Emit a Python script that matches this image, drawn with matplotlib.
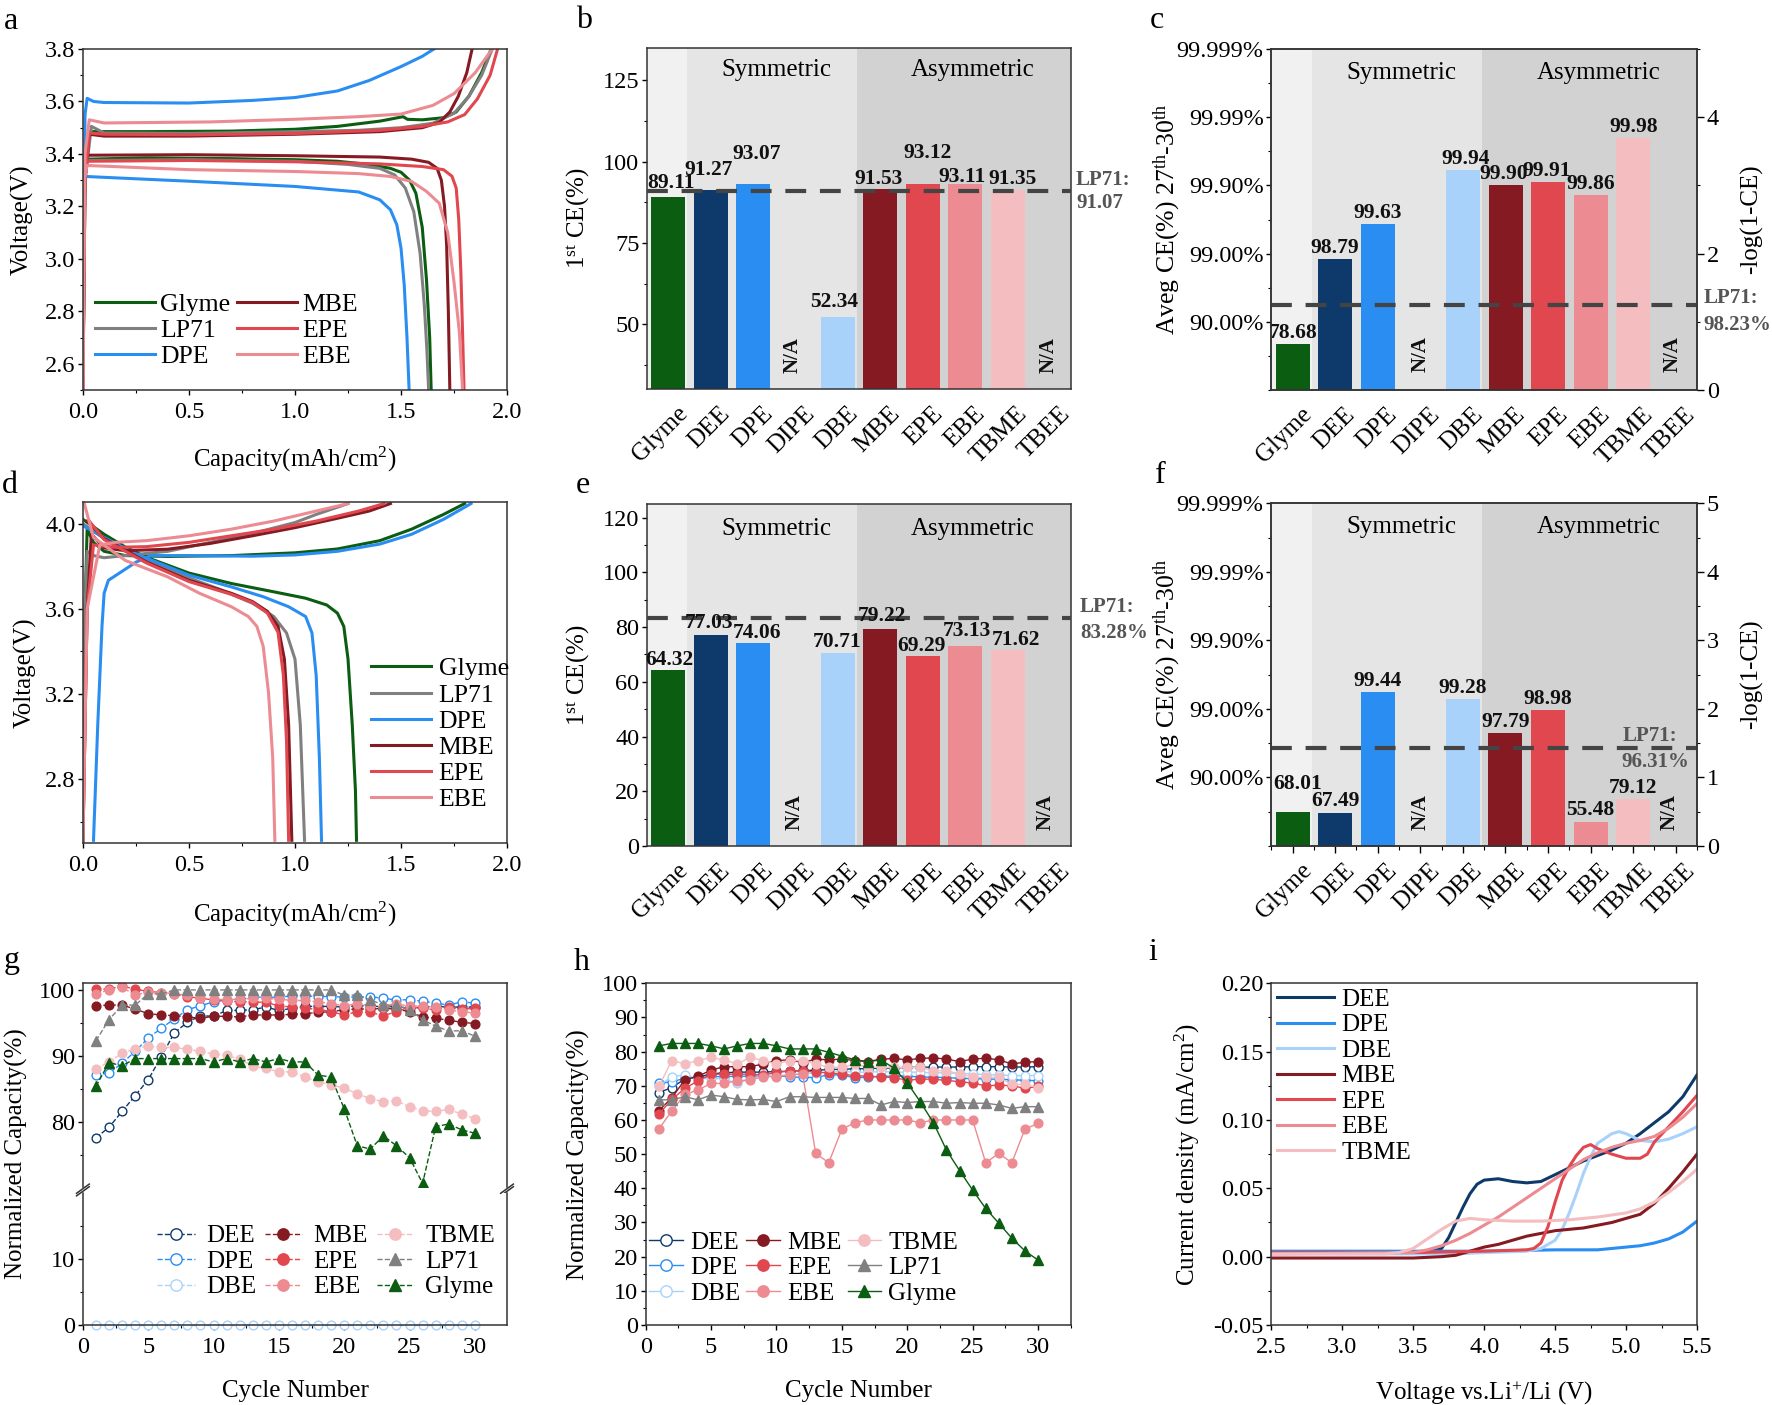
import numpy as np
import matplotlib.pyplot as plt
from matplotlib.ticker import MultipleLocator, FixedLocator
from matplotlib.transforms import ScaledTranslation

plt.rcParams['font.family'] = ['Liberation Serif', 'DejaVu Serif']
plt.rcParams['mathtext.fontset'] = 'custom'
plt.rcParams['mathtext.rm'] = 'Liberation Serif'
plt.rcParams['mathtext.it'] = 'Liberation Serif:italic'
plt.rcParams['mathtext.bf'] = 'Liberation Serif:bold'
plt.rcParams['xtick.labelsize'] = 17.5
plt.rcParams['ytick.labelsize'] = 17.5
plt.rcParams['axes.labelsize'] = 18

# colours
C_GLYME = '#0B5D12'
C_LP71 = '#808080'
C_DEE = '#0E3A6B'
C_DPE = '#2A8DF2'
C_DBE = '#A9D2FA'
C_MBE = '#861A22'
C_EPE = '#E1474F'
C_EBE = '#EC8B91'
C_TBME = '#F4BEC1'

# ---------------- a: LFP charge / discharge ----------------
a_glyme_ch_x = [0.0, 0.01, 0.03, 0.3, 0.7, 1.0, 1.2, 1.4, 1.51, 1.53, 1.6, 1.7, 1.76, 1.82, 1.88, 1.925]
a_glyme_ch_y = [2.5, 3.4, 3.485, 3.485, 3.487, 3.494, 3.505, 3.525, 3.542, 3.532, 3.53, 3.538, 3.56, 3.62, 3.71, 3.8]
a_glyme_dis_x = [0.0, 0.005, 0.02, 0.3, 0.7, 1.0, 1.2, 1.35, 1.45, 1.5, 1.54, 1.57, 1.6, 1.62, 1.635, 1.642]
a_glyme_dis_y = [2.5, 3.3, 3.38, 3.385, 3.382, 3.378, 3.372, 3.36, 3.345, 3.33, 3.3, 3.25, 3.12, 2.92, 2.7, 2.5]
a_lp71_ch_x = [0.0, 0.01, 0.04, 0.1, 0.5, 1.0, 1.3, 1.5, 1.65, 1.75, 1.82, 1.88, 1.93]
a_lp71_ch_y = [2.5, 3.3, 3.505, 3.48, 3.478, 3.485, 3.49, 3.5, 3.517, 3.555, 3.62, 3.7, 3.8]
a_lp71_dis_x = [0.0, 0.005, 0.02, 0.5, 1.0, 1.25, 1.4, 1.47, 1.52, 1.56, 1.59, 1.61, 1.622, 1.63]
a_lp71_dis_y = [2.5, 3.3, 3.375, 3.378, 3.372, 3.36, 3.345, 3.32, 3.27, 3.18, 3.02, 2.82, 2.65, 2.5]
a_dpe_ch_x = [0.0, 0.01, 0.02, 0.05, 0.1, 0.5, 0.8, 1.0, 1.2, 1.35, 1.5, 1.6, 1.655]
a_dpe_ch_y = [2.5, 3.55, 3.612, 3.6, 3.596, 3.594, 3.604, 3.615, 3.64, 3.68, 3.733, 3.772, 3.8]
a_dpe_dis_x = [0.0, 0.005, 0.013, 0.5, 1.0, 1.3, 1.4, 1.45, 1.48, 1.5, 1.515, 1.528, 1.538]
a_dpe_dis_y = [2.5, 3.2, 3.314, 3.296, 3.276, 3.255, 3.225, 3.187, 3.13, 3.04, 2.9, 2.7, 2.5]
a_mbe_ch_x = [0.0, 0.01, 0.03, 0.1, 0.5, 1.0, 1.4, 1.6, 1.68, 1.73, 1.77, 1.81, 1.835]
a_mbe_ch_y = [2.5, 3.3, 3.475, 3.468, 3.468, 3.475, 3.485, 3.5, 3.52, 3.56, 3.62, 3.71, 3.8]
a_mbe_dis_x = [0.0, 0.005, 0.02, 0.5, 1.0, 1.4, 1.55, 1.63, 1.67, 1.69, 1.705, 1.715, 1.723, 1.73]
a_mbe_dis_y = [2.5, 3.3, 3.395, 3.397, 3.393, 3.388, 3.38, 3.368, 3.345, 3.3, 3.2, 3.05, 2.8, 2.5]
a_epe_ch_x = [0.0, 0.01, 0.03, 0.1, 0.5, 1.0, 1.4, 1.6, 1.72, 1.8, 1.86, 1.92, 1.955]
a_epe_ch_y = [2.5, 3.3, 3.48, 3.475, 3.473, 3.478, 3.49, 3.505, 3.522, 3.55, 3.61, 3.7, 3.8]
a_epe_dis_x = [0.0, 0.005, 0.02, 0.5, 1.0, 1.4, 1.6, 1.7, 1.74, 1.76, 1.772, 1.782, 1.79, 1.797]
a_epe_dis_y = [2.5, 3.3, 3.372, 3.375, 3.37, 3.362, 3.352, 3.34, 3.315, 3.27, 3.15, 2.95, 2.72, 2.5]
a_ebe_ch_x = [0.0, 0.01, 0.03, 0.1, 0.6, 1.0, 1.3, 1.5, 1.65, 1.75, 1.85, 1.93]
a_ebe_ch_y = [2.5, 3.4, 3.53, 3.518, 3.522, 3.532, 3.542, 3.552, 3.585, 3.63, 3.71, 3.8]
a_ebe_dis_x = [0.0, 0.005, 0.02, 0.5, 1.0, 1.3, 1.45, 1.55, 1.62, 1.68, 1.72, 1.75, 1.775, 1.79]
a_ebe_dis_y = [2.5, 3.3, 3.356, 3.34, 3.333, 3.325, 3.314, 3.295, 3.257, 3.212, 3.1, 2.91, 2.72, 2.5]

# ---------------- d: NCM charge / discharge ----------------
d_glyme_ch_x = [0.0, 0.01, 0.02, 0.05, 0.1, 0.2, 0.4, 0.7, 1.0, 1.2, 1.4, 1.55, 1.7, 1.8]
d_glyme_ch_y = [2.5, 3.6, 3.974, 3.912, 3.87, 3.85, 3.846, 3.85, 3.863, 3.881, 3.92, 3.974, 4.043, 4.094]
d_glyme_dis_x = [0.0, 0.1, 0.2, 0.3, 0.5, 0.7, 0.9, 1.05, 1.15, 1.2, 1.23, 1.25, 1.27, 1.285, 1.29]
d_glyme_dis_y = [4.02, 3.95, 3.89, 3.842, 3.768, 3.719, 3.68, 3.65, 3.618, 3.58, 3.518, 3.364, 3.055, 2.746, 2.514]
d_lp71_ch_x = [0.0, 0.01, 0.02, 0.05, 0.1, 0.2, 0.4, 0.6, 0.8, 1.0, 1.1, 1.25]
d_lp71_ch_y = [2.5, 3.6, 3.87, 3.85, 3.84, 3.85, 3.87, 3.912, 3.954, 4.005, 4.043, 4.094]
d_lp71_dis_x = [0.0, 0.1, 0.3, 0.5, 0.65, 0.8, 0.9, 0.96, 1.0, 1.025, 1.045]
d_lp71_dis_y = [4.0, 3.93, 3.83, 3.745, 3.69, 3.626, 3.564, 3.487, 3.364, 3.055, 2.514]
d_dpe_ch_x = [0.05, 0.07, 0.09, 0.1, 0.12, 0.18, 0.25, 0.32, 0.5, 0.8, 1.0, 1.2, 1.4, 1.55, 1.7, 1.83]
d_dpe_ch_y = [2.514, 3.055, 3.518, 3.673, 3.734, 3.773, 3.819, 3.85, 3.85, 3.847, 3.853, 3.87, 3.904, 3.95, 4.02, 4.094]
d_dpe_dis_x = [0.0, 0.1, 0.25, 0.5, 0.7, 0.85, 0.97, 1.05, 1.08, 1.1, 1.115, 1.125]
d_dpe_dis_y = [3.99, 3.935, 3.858, 3.758, 3.703, 3.657, 3.61, 3.564, 3.487, 3.286, 2.9, 2.514]
d_mbe_ch_x = [0.0, 0.02, 0.04, 0.1, 0.2, 0.4, 0.6, 0.8, 1.0, 1.2, 1.35, 1.45]
d_mbe_ch_y = [2.5, 3.6, 3.95, 3.886, 3.873, 3.88, 3.907, 3.943, 3.981, 4.025, 4.059, 4.094]
d_mbe_dis_x = [0.02, 0.1, 0.3, 0.5, 0.7, 0.8, 0.87, 0.92, 0.95, 0.97, 0.985]
d_mbe_dis_y = [4.012, 3.93, 3.82, 3.734, 3.673, 3.634, 3.588, 3.518, 3.364, 3.055, 2.514]
d_epe_ch_x = [0.0, 0.02, 0.05, 0.15, 0.3, 0.5, 0.7, 0.9, 1.1, 1.3, 1.42]
d_epe_ch_y = [2.5, 3.6, 3.9, 3.889, 3.892, 3.912, 3.943, 3.974, 4.012, 4.059, 4.094]
d_epe_dis_x = [0.03, 0.1, 0.3, 0.5, 0.7, 0.8, 0.87, 0.92, 0.945, 0.96, 0.97]
d_epe_dis_y = [4.012, 3.925, 3.815, 3.728, 3.668, 3.63, 3.58, 3.49, 3.29, 2.98, 2.514]
d_ebe_ch_x = [0.0, 0.02, 0.08, 0.15, 0.3, 0.5, 0.7, 0.9, 1.1, 1.25]
d_ebe_ch_y = [2.5, 3.6, 3.9, 3.912, 3.92, 3.943, 3.974, 4.012, 4.059, 4.094]
d_ebe_dis_x = [0.005, 0.05, 0.2, 0.4, 0.55, 0.7, 0.78, 0.82, 0.85, 0.875, 0.895, 0.905]
d_ebe_dis_y = [4.1, 3.935, 3.827, 3.75, 3.673, 3.61, 3.564, 3.518, 3.425, 3.209, 2.9, 2.514]

# ---------------- b, c, e, f: bar panels ----------------
ethers = ['Glyme', 'DEE', 'DPE', 'DIPE', 'DBE', 'MBE', 'EPE', 'EBE', 'TBME', 'TBEE']
bar_colors = [C_GLYME, C_DEE, C_DPE, None, C_DBE, C_MBE, C_EPE, C_EBE, C_TBME, None]
ce1_lfp = [89.11, 91.27, 93.07, None, 52.34, 91.53, 93.12, 93.11, 91.35, None]
ce_avg_lfp = [78.68, 98.79, 99.63, None, 99.94, 99.90, 99.91, 99.86, 99.98, None]
ce1_ncm = [64.32, 77.03, 74.06, None, 70.71, 79.22, 69.29, 73.13, 71.62, None]
ce_avg_ncm = [68.01, 67.49, 99.44, None, 99.28, 97.79, 98.98, 55.48, 79.12, None]
lp71_ce1_lfp = 91.07
lp71_avg_lfp = 98.23
lp71_avg_lfp_drawn = 1.24   # dashed line sits here in the original panel c
lp71_ce1_ncm = 83.28
lp71_avg_ncm = 96.31

# ---------------- g, h: cycling ----------------
cycles = list(range(1, 31))
g_dee = [77.6, 79.2, 81.6, 84.0, 86.4, 89.9, 93.5, 95.1, 96.1, 96.0, 96.9, 96.9, 97.0, 97.4, 96.9,
         97.2, 97.5, 97.5, 97.5, 97.4, 97.6, 97.6, 97.4, 97.5, 97.2, 97.4, 97.5, 97.4, 97.4, 97.4]
g_dpe = [87.1, 87.4, 88.9, 90.7, 92.7, 94.2, 95.6, 97.0, 97.6, 98.2, 98.5, 98.6, 98.9, 98.9, 98.9,
         99.1, 99.1, 99.0, 99.0, 98.9, 98.9, 99.0, 98.7, 98.5, 98.5, 98.3, 98.0, 97.7, 98.2, 98.0]
g_dbe = [0.0, 0.0, 0.0, 0.0, 0.0, 0.0, 0.0, 0.0, 0.0, 0.0, 0.0, 0.0, 0.0, 0.0, 0.0,
         0.0, 0.0, 0.0, 0.0, 0.0, 0.0, 0.0, 0.0, 0.0, 0.0, 0.0, 0.0, 0.0, 0.0, 0.0]
g_mbe = [97.6, 97.7, 97.7, 97.1, 96.4, 96.2, 96.1, 95.9, 95.7, 96.0, 96.0, 95.9, 96.2, 96.2, 96.2,
         96.3, 96.4, 96.6, 96.7, 97.0, 97.1, 97.1, 97.2, 97.1, 96.7, 95.9, 95.7, 95.4, 95.1, 94.9]
g_epe = [100.1, 100.1, 100.6, 100.1, 99.8, 99.6, 99.4, 99.0, 98.7, 98.5, 98.3, 98.2, 98.2, 98.1, 97.6,
         97.4, 97.2, 97.1, 96.7, 96.2, 96.7, 96.6, 96.1, 96.7, 97.4, 97.2, 97.0, 97.4, 97.1, 97.2]
g_ebe = [99.4, 100.0, 100.4, 99.2, 99.7, 99.6, 99.4, 99.2, 98.7, 98.6, 98.5, 98.6, 98.7, 98.7, 98.6,
         98.4, 98.4, 98.2, 97.9, 97.6, 97.9, 97.6, 97.4, 97.8, 97.6, 97.5, 97.4, 97.0, 96.7, 96.5]
g_tbme = [88.0, 89.1, 90.4, 91.1, 91.5, 91.3, 91.3, 91.0, 90.7, 90.3, 90.1, 89.5, 88.5, 88.1, 87.6,
          87.6, 86.8, 86.1, 85.6, 85.1, 84.3, 83.5, 83.1, 83.2, 82.3, 81.7, 81.6, 81.9, 81.2, 80.5]
g_lp71 = [92.3, 95.5, 97.7, 97.7, 99.4, 99.4, 100.0, 100.0, 100.0, 100.0, 100.0, 100.0, 100.0, 100.0, 100.0,
          100.0, 100.0, 100.0, 100.0, 99.2, 99.2, 98.5, 97.7, 97.7, 97.0, 95.5, 94.5, 93.8, 93.8, 93.0]
g_glyme = [85.4, 89.0, 88.5, 89.6, 89.6, 89.6, 89.6, 89.6, 89.6, 89.1, 89.6, 89.1, 89.6, 89.1, 89.6,
           89.1, 89.1, 87.1, 86.8, 82.0, 76.4, 75.9, 77.9, 76.4, 74.6, 70.7, 79.3, 79.7, 78.8, 78.3]

h_dee = [68.0, 69.5, 72.0, 72.5, 73.5, 73.8, 74.0, 74.0, 74.0, 74.2, 74.2, 74.5, 74.5, 74.8, 74.8,
         75.0, 75.0, 75.2, 75.2, 75.4, 75.4, 75.5, 75.5, 75.5, 75.6, 75.6, 75.6, 75.5, 75.5, 75.6]
h_dpe = [70.7, 71.2, 72.2, 72.2, 72.7, 72.7, 72.8, 72.8, 72.9, 73.0, 72.6, 72.5, 72.4, 73.3, 73.1,
         72.4, 72.5, 72.8, 72.8, 72.8, 72.6, 72.5, 72.4, 72.2, 72.1, 72.0, 71.9, 71.8, 71.6, 71.5]
h_dbe = [70.0, 72.7, 73.2, 72.0, 72.2, 72.0, 70.7, 72.0, 73.0, 73.0, 73.2, 73.5, 73.8, 74.0, 74.2,
         74.0, 74.0, 74.2, 74.0, 74.0, 74.0, 73.8, 73.8, 73.6, 73.5, 73.3, 73.2, 73.0, 73.0, 73.0]
h_mbe = [62.7, 66.5, 71.8, 72.8, 74.6, 75.6, 75.6, 75.6, 76.4, 77.4, 77.6, 76.8, 77.8, 77.6, 77.8,
         77.4, 77.1, 77.8, 78.0, 77.6, 78.0, 78.2, 77.8, 77.1, 77.8, 78.1, 77.6, 76.4, 76.9, 77.1]
h_epe = [61.7, 66.0, 69.3, 71.4, 73.4, 73.4, 73.4, 73.4, 73.2, 73.9, 74.4, 74.4, 74.0, 73.8, 73.4,
         73.0, 72.8, 72.6, 72.4, 71.6, 72.0, 71.9, 71.6, 71.2, 70.8, 70.0, 70.2, 70.0, 69.3, 69.8]
h_ebe = [57.3, 62.7, 67.5, 68.8, 70.7, 70.7, 71.5, 71.7, 72.7, 72.7, 73.2, 73.5, 50.2, 47.5, 57.3,
         59.2, 60.0, 60.0, 60.0, 60.0, 59.2, 60.0, 60.0, 60.0, 60.0, 47.5, 50.2, 47.5, 57.3, 59.0]
h_tbme = [69.8, 77.4, 76.4, 77.4, 78.3, 77.6, 76.4, 78.3, 77.4, 76.4, 77.4, 77.4, 76.4, 75.4, 75.4,
          76.4, 75.4, 75.4, 75.4, 75.4, 75.4, 74.4, 74.4, 73.5, 72.5, 72.5, 72.5, 70.4, 70.4, 69.5]
h_lp71 = [65.9, 65.9, 66.8, 65.9, 67.3, 66.8, 66.0, 65.9, 66.0, 65.4, 66.8, 66.8, 66.6, 66.6, 66.6,
          66.3, 66.3, 64.4, 65.4, 65.1, 65.4, 65.4, 64.9, 65.1, 64.9, 64.9, 64.4, 63.4, 63.9, 63.9]
h_glyme = [81.7, 82.4, 82.4, 82.4, 81.7, 80.8, 81.7, 82.4, 82.4, 81.7, 80.8, 80.8, 80.8, 79.8, 78.7,
           77.6, 77.1, 77.6, 75.1, 70.9, 65.3, 59.2, 51.2, 45.2, 39.5, 34.1, 29.8, 25.4, 21.7, 19.0]

# ---------------- i: LSV ----------------
i_dee_v = [2.5, 3.0, 3.5, 3.6, 3.7, 3.75, 3.8, 3.85, 3.9, 3.95, 4.0, 4.1, 4.2, 4.3, 4.4, 4.5, 4.6, 4.7, 4.8, 4.9, 5.0, 5.1, 5.2, 5.3, 5.4, 5.5]
i_dee_j = [0.003, 0.003, 0.003, 0.003, 0.006, 0.014, 0.025, 0.036, 0.046, 0.053, 0.056, 0.057, 0.055, 0.054, 0.055, 0.060, 0.065, 0.070, 0.074, 0.078, 0.083, 0.090, 0.098, 0.106, 0.117, 0.133]
i_dpe_v = [2.5, 3.0, 3.5, 4.0, 4.5, 4.8, 5.0, 5.1, 5.2, 5.3, 5.4, 5.5]
i_dpe_j = [0.004, 0.004, 0.004, 0.004, 0.005, 0.005, 0.007, 0.008, 0.010, 0.013, 0.018, 0.026]
i_dbe_v = [2.5, 3.5, 3.8, 4.0, 4.3, 4.4, 4.5, 4.55, 4.6, 4.65, 4.7, 4.75, 4.8, 4.9, 4.95, 5.0, 5.1, 5.2, 5.3, 5.4, 5.5]
i_dbe_j = [0.002, 0.002, 0.002, 0.003, 0.004, 0.006, 0.012, 0.020, 0.032, 0.046, 0.061, 0.073, 0.083, 0.090, 0.0915, 0.090, 0.085, 0.084, 0.086, 0.090, 0.095]
i_mbe_v = [2.5, 3.0, 3.5, 3.7, 3.8, 3.9, 4.0, 4.1, 4.2, 4.3, 4.4, 4.5, 4.6, 4.7, 4.8, 4.9, 5.0, 5.1, 5.2, 5.3, 5.4, 5.5]
i_mbe_j = [-0.001, -0.001, -0.001, 0.0, 0.001, 0.004, 0.007, 0.009, 0.012, 0.015, 0.017, 0.019, 0.020, 0.021, 0.023, 0.025, 0.028, 0.031, 0.039, 0.050, 0.062, 0.075]
i_epe_v = [2.5, 3.5, 4.0, 4.3, 4.35, 4.4, 4.45, 4.5, 4.55, 4.6, 4.65, 4.7, 4.75, 4.8, 4.9, 5.0, 5.1, 5.15, 5.2, 5.3, 5.4, 5.5]
i_epe_j = [0.003, 0.003, 0.004, 0.005, 0.006, 0.010, 0.022, 0.040, 0.056, 0.066, 0.074, 0.080, 0.082, 0.079, 0.075, 0.072, 0.072, 0.075, 0.084, 0.095, 0.106, 0.118]
i_ebe_v = [2.5, 3.5, 3.6, 3.7, 3.8, 3.9, 4.0, 4.1, 4.2, 4.3, 4.4, 4.5, 4.6, 4.7, 4.8, 4.9, 5.0, 5.1, 5.2, 5.3, 5.4, 5.5]
i_ebe_j = [0.002, 0.003, 0.005, 0.008, 0.012, 0.017, 0.023, 0.029, 0.036, 0.043, 0.050, 0.057, 0.064, 0.071, 0.076, 0.080, 0.083, 0.085, 0.088, 0.094, 0.102, 0.112]
i_tbme_v = [2.5, 3.3, 3.4, 3.5, 3.6, 3.7, 3.8, 3.9, 4.0, 4.2, 4.4, 4.6, 4.8, 5.0, 5.1, 5.2, 5.3, 5.4, 5.5]
i_tbme_j = [0.002, 0.002, 0.003, 0.006, 0.013, 0.020, 0.026, 0.028, 0.027, 0.026, 0.026, 0.027, 0.029, 0.032, 0.035, 0.040, 0.047, 0.055, 0.064]

W, H = 1772, 1405
fig = plt.figure(figsize=(W / 100, H / 100), dpi=100)


def rect(l, t, r, b):
    return [l / W, 1 - b / H, (r - l) / W, (b - t) / H]


def style(ax):
    ax.tick_params(which='major', direction='out', length=3.5, width=1.0, pad=2)
    ax.tick_params(axis='x', which='major', pad=5)
    ax.tick_params(which='minor', direction='out', length=2.2, width=0.8)
    for s in ax.spines.values():
        s.set_linewidth(1.1)
        s.set_color('#333333')


def letter(x, y, s):
    fig.text(x / W, 1 - y / H, s, fontsize=23, va='baseline', ha='left')


LW = 2.2

# ---- a ----
axa = fig.add_axes(rect(82.9, 49, 507.1, 390))
style(axa)
for name, col, cx, cy, dx, dy in [
        ('Glyme', C_GLYME, a_glyme_ch_x, a_glyme_ch_y, a_glyme_dis_x, a_glyme_dis_y),
        ('LP71', C_LP71, a_lp71_ch_x, a_lp71_ch_y, a_lp71_dis_x, a_lp71_dis_y),
        ('DPE', C_DPE, a_dpe_ch_x, a_dpe_ch_y, a_dpe_dis_x, a_dpe_dis_y),
        ('MBE', C_MBE, a_mbe_ch_x, a_mbe_ch_y, a_mbe_dis_x, a_mbe_dis_y),
        ('EPE', C_EPE, a_epe_ch_x, a_epe_ch_y, a_epe_dis_x, a_epe_dis_y),
        ('EBE', C_EBE, a_ebe_ch_x, a_ebe_ch_y, a_ebe_dis_x, a_ebe_dis_y)]:
    axa.plot(cx, cy, color=col, lw=LW)
    axa.plot(dx, dy, color=col, lw=LW, label=name)
axa.set_xlim(0, 2.0)
axa.set_ylim(2.5, 3.8)
axa.xaxis.set_major_locator(MultipleLocator(0.5))
axa.xaxis.set_minor_locator(MultipleLocator(0.25))
axa.yaxis.set_major_locator(FixedLocator([2.6, 2.8, 3.0, 3.2, 3.4, 3.6, 3.8]))
axa.yaxis.set_minor_locator(MultipleLocator(0.1))
axa.set_xlabel('Capacity(mAh/cm$^2$)')
axa.set_ylabel('Voltage(V)')
axa.xaxis.set_label_coords(0.5, -0.16)
axa.yaxis.set_label_coords(-0.115, 0.5)
axa.legend(ncol=2, loc='upper left', bbox_to_anchor=(0.028, 0.285), frameon=False, fontsize=18.5,
           handlelength=2.35, handletextpad=0.2, columnspacing=0.25, labelspacing=0.12,
           borderpad=0, borderaxespad=0)
letter(4, 29, 'a')

# ---- d ----
axd = fig.add_axes(rect(82.9, 502.3, 507.1, 843.3))
style(axd)
for name, col, cx, cy, dx, dy in [
        ('Glyme', C_GLYME, d_glyme_ch_x, d_glyme_ch_y, d_glyme_dis_x, d_glyme_dis_y),
        ('LP71', C_LP71, d_lp71_ch_x, d_lp71_ch_y, d_lp71_dis_x, d_lp71_dis_y),
        ('DPE', C_DPE, d_dpe_ch_x, d_dpe_ch_y, d_dpe_dis_x, d_dpe_dis_y),
        ('MBE', C_MBE, d_mbe_ch_x, d_mbe_ch_y, d_mbe_dis_x, d_mbe_dis_y),
        ('EPE', C_EPE, d_epe_ch_x, d_epe_ch_y, d_epe_dis_x, d_epe_dis_y),
        ('EBE', C_EBE, d_ebe_ch_x, d_ebe_ch_y, d_ebe_dis_x, d_ebe_dis_y)]:
    axd.plot(cx, cy, color=col, lw=LW)
    axd.plot(dx, dy, color=col, lw=LW, label=name)
axd.set_xlim(0, 2.0)
axd.set_ylim(2.5, 4.1)
axd.xaxis.set_major_locator(MultipleLocator(0.5))
axd.xaxis.set_minor_locator(MultipleLocator(0.25))
axd.yaxis.set_major_locator(FixedLocator([2.8, 3.2, 3.6, 4.0]))
axd.yaxis.set_minor_locator(FixedLocator([2.6, 3.0, 3.4, 3.8]))
axd.set_xlabel('Capacity(mAh/cm$^2$)')
axd.set_ylabel('Voltage(V)')
axd.xaxis.set_label_coords(0.5, -0.165)
axd.yaxis.set_label_coords(-0.11, 0.5)
axd.legend(loc='upper left', bbox_to_anchor=(0.679, 0.545), frameon=False, fontsize=18.5,
           handlelength=2.35, handletextpad=0.28, labelspacing=0.12, borderpad=0, borderaxespad=0)
letter(2, 493, 'd')

# ---- bar panels ----
BG0, BG1, BG2 = '#F1F1F1', '#E5E5E5', '#D2D2D2'
NA_COL = '#111111'


def bar_panel(ax, heights, texts, lab_dx, lab_dy, na_y, na_dx, title_y, lp_y):
    ax.set_xlim(-0.5, 9.5)
    ax.axvspan(-0.5, 0.45, color=BG0, lw=0, zorder=0)
    ax.axvspan(0.45, 4.45, color=BG1, lw=0, zorder=0)
    ax.axvspan(4.45, 9.5, color=BG2, lw=0, zorder=0)
    for i, h in enumerate(heights):
        if h is None:
            ax.text(i + na_dx[i], na_y, 'N/A', rotation=90, ha='center', va='center',
                    fontsize=15, fontweight='bold', color=NA_COL, zorder=4)
            continue
        ax.bar(i, h, width=0.8, color=bar_colors[i], lw=0, zorder=2)
        ax.text(i + lab_dx[i], h + lab_dy[i], texts[i], ha='center', va='center',
                fontsize=15.5, fontweight='bold', color='#111111', zorder=5)
    ax.axhline(lp_y, color='#444444', lw=3, ls=(0, (5, 3.3)), zorder=4)
    ax.text(2.55, title_y, 'Symmetric', ha='center', va='center', fontsize=18, zorder=4)
    ax.text(7.18, title_y, 'Asymmetric', ha='center', va='center', fontsize=18, zorder=4)
    ax.set_xticks(range(10))
    ax.set_xticklabels([])
    trans = ax.get_xaxis_transform() + ScaledTranslation(0.16, -0.21, fig.dpi_scale_trans)
    for i, name in enumerate(ethers):
        ax.text(i, 0, name, transform=trans, rotation=45, ha='right', va='center',
                rotation_mode='anchor', fontsize=18)


# ---- b ----
axb = fig.add_axes(rect(647.1, 47.7, 1071.4, 389.3))
style(axb)
axb.set_ylim(30, 135)
bar_panel(axb, ce1_lfp, ['%.2f' % v if v else '' for v in ce1_lfp],
          [0.07, -0.05, 0.07, 0, -0.1, -0.05, 0.1, -0.08, 0.12, 0],
          [4.4, 6.2, 9.4, 0, 4.5, 3.0, 9.4, 2.1, 3.2, 0],
          40.5, [0, 0, 0, -0.08, 0, 0, 0, 0, 0, -0.03], 128, lp71_ce1_lfp)
axb.tick_params(axis='x', length=0)
axb.yaxis.set_major_locator(FixedLocator([50, 75, 100, 125]))
axb.yaxis.set_minor_locator(MultipleLocator(12.5))
axb.set_ylabel('1$^{\\mathrm{st}}$ CE(%)')
axb.yaxis.set_label_coords(-0.13, 0.5)
axb.text(1.011, 0.613, 'LP71:', transform=axb.transAxes, ha='left', va='center',
         fontsize=15, fontweight='bold', color='#555555', clip_on=False)
axb.text(1.011, 0.545, '%.2f' % lp71_ce1_lfp, transform=axb.transAxes, ha='left', va='center',
         fontsize=15, fontweight='bold', color='#555555', clip_on=False)
letter(576, 28, 'b')

# ---- e ----
axe = fig.add_axes(rect(647.1, 504, 1071.4, 846))
style(axe)
axe.set_ylim(0, 125)
bar_panel(axe, ce1_ncm, ['%.2f' % v if v else '' for v in ce1_ncm],
          [0.03, -0.05, 0.1, 0, -0.03, 0.03, -0.03, 0.04, 0.2, 0],
          [3.7, 4.5, 3.8, 0, 3.7, 4.8, 3.7, 5.4, 3.7, 0],
          12.5, [0, 0, 0, -0.03, 0, 0, 0, 0, 0, -0.1], 115.8, lp71_ce1_ncm)
axe.tick_params(axis='x', length=0)
axe.yaxis.set_major_locator(MultipleLocator(20))
axe.yaxis.set_minor_locator(MultipleLocator(10))
axe.set_ylabel('1$^{\\mathrm{st}}$ CE(%)')
axe.yaxis.set_label_coords(-0.13, 0.5)
axe.text(1.02, 0.699, 'LP71:', transform=axe.transAxes, ha='left', va='center',
         fontsize=15, fontweight='bold', color='#555555', clip_on=False)
axe.text(1.02, 0.623, '%.2f%%' % lp71_ce1_ncm, transform=axe.transAxes, ha='left', va='center',
         fontsize=15, fontweight='bold', color='#555555', clip_on=False)
letter(576, 493, 'e')

# ---- c & f: average CE on -log(1-CE) scale ----
ce_tick_pos = [1, 2, 3, 4, 5]
ce_tick_lab = ['90.00%', '99.00%', '99.90%', '99.99%', '99.999%']


def neglog(vals):
    return [None if v is None else -np.log10(1 - v / 100.0) for v in vals]


def avg_panel(ax, ce_vals, lab_dx, lab_dy, na_y, na_dx, lp_y, right_major, right_minor):
    ax.set_ylim(0, 5)
    bar_panel(ax, neglog(ce_vals), ['%.2f' % v if v else '' for v in ce_vals],
              lab_dx, lab_dy, na_y, na_dx, 4.65, lp_y)
    ax.yaxis.set_major_locator(FixedLocator(ce_tick_pos))
    ax.set_yticklabels(ce_tick_lab)
    ax.yaxis.set_minor_locator(MultipleLocator(0.5))
    ax.set_ylabel('Aveg CE(%) 27$^{\\mathrm{th}}$-30$^{\\mathrm{th}}$', fontsize=18.5)
    ax.yaxis.set_label_coords(-0.207, 0.5)
    ax2 = ax.twinx()
    ax2.set_ylim(0, 5)
    style(ax2)
    ax2.yaxis.set_major_locator(FixedLocator(right_major))
    ax2.yaxis.set_minor_locator(FixedLocator(right_minor))
    ax2.tick_params(axis='y', which='major', length=5)
    ax2.set_ylabel('-log(1-CE)', fontsize=18)
    return ax2


axc = fig.add_axes(rect(1271.3, 49, 1697.2, 390))
style(axc)
axc2 = avg_panel(axc, ce_avg_lfp, [0.02, 0, 0, -0.04, 0.05, -0.05, -0.04, 0, 0, 0],
                 [0.165, 0.17, 0.17, 0.16, 0.17, 0.16, 0.16, 0.16, 0.16, 0],
                 0.53, [0, 0, 0, 0, 0, 0, 0, 0, 0, -0.08], lp71_avg_lfp_drawn,
                 [0, 2, 4], [1, 3, 5])
axc.tick_params(axis='x', length=0)
axc2.yaxis.set_label_coords(1.1, 0.5)
axc.text(1.014, 0.27, 'LP71:', transform=axc.transAxes, ha='left', va='center',
         fontsize=15, fontweight='bold', color='#555555', clip_on=False)
axc.text(1.014, 0.19, '%.2f%%' % lp71_avg_lfp, transform=axc.transAxes, ha='left', va='center',
         fontsize=15, fontweight='bold', color='#555555', clip_on=False)
letter(1150, 28, 'c')

axf = fig.add_axes(rect(1271.3, 503.3, 1697, 846))
style(axf)
axf2 = avg_panel(axf, ce_avg_ncm, [0.11, 0, 0, 0, 0, 0, 0, 0, 0, 0],
                 [0.41, 0.17, 0.16, 0, 0.16, 0.15, 0.16, 0.17, 0.16, 0],
                 0.49, [0, 0, 0, 0, 0, 0, 0, 0, 0, -0.15], -np.log10(1 - lp71_avg_ncm / 100),
                 [0, 1, 2, 3, 4, 5], [0.5, 1.5, 2.5, 3.5, 4.5])
axf.xaxis.set_minor_locator(FixedLocator([i + 0.5 for i in range(-1, 10)]))
axf.tick_params(axis='x', which='major', length=5)
axf.tick_params(axis='x', which='minor', length=3)
axf2.yaxis.set_label_coords(1.1, 0.5)
axf.text(0.89, 0.32, 'LP71:', transform=axf.transAxes, ha='center', va='center',
         fontsize=15, fontweight='bold', color='#555555', zorder=6)
axf.text(0.903, 0.245, '%.2f%%' % lp71_avg_ncm, transform=axf.transAxes, ha='center', va='center',
         fontsize=15, fontweight='bold', color='#555555', zorder=6)
letter(1155, 483, 'f')

# ---- g: broken axis ----
g_series = [('DEE', g_dee, C_DEE, 'o', 'white'), ('DPE', g_dpe, C_DPE, 'o', 'white'),
            ('DBE', g_dbe, C_DBE, 'o', 'white'), ('MBE', g_mbe, C_MBE, 'o', None),
            ('EPE', g_epe, C_EPE, 'o', None), ('EBE', g_ebe, C_EBE, 'o', None),
            ('TBME', g_tbme, C_TBME, 'o', None), ('LP71', g_lp71, C_LP71, '^', None),
            ('Glyme', g_glyme, C_GLYME, '^', None)]
h_series = [('DEE', h_dee, C_DEE, 'o', 'white'), ('DPE', h_dpe, C_DPE, 'o', 'white'),
            ('DBE', h_dbe, C_DBE, 'o', 'white'), ('MBE', h_mbe, C_MBE, 'o', None),
            ('EPE', h_epe, C_EPE, 'o', None), ('EBE', h_ebe, C_EBE, 'o', None),
            ('TBME', h_tbme, C_TBME, 'o', None), ('LP71', h_lp71, C_LP71, '^', None),
            ('Glyme', h_glyme, C_GLYME, '^', None)]


def plot_cycles(ax, series, ls):
    for name, vals, col, mk, face in series:
        ax.plot(cycles, vals, ls=ls, lw=1.0, color=col, marker=mk,
                ms=7 if mk == '^' else 6.3, mfc=face if face else col, mec=col, mew=1.0,
                label=name)


axg_top = fig.add_axes(rect(82.9, 983.3, 507, 1186.7))
axg_bot = fig.add_axes(rect(82.9, 1193.3, 507, 1325))
for ax in (axg_top, axg_bot):
    style(ax)
    plot_cycles(ax, g_series, '--')
    ax.set_xlim(0, 32.46)
axg_top.set_ylim(70.2, 101)
axg_bot.set_ylim(0, 20)
axg_bot.lines[2].set_clip_on(False)
axg_top.spines['bottom'].set_visible(False)
axg_bot.spines['top'].set_visible(False)
axg_top.tick_params(axis='x', which='both', bottom=False, labelbottom=False)
axg_top.yaxis.set_major_locator(FixedLocator([80, 90, 100]))
axg_top.yaxis.set_minor_locator(FixedLocator([75, 85, 95]))
axg_bot.yaxis.set_major_locator(FixedLocator([0, 10]))
axg_bot.yaxis.set_minor_locator(FixedLocator([5, 15]))
axg_bot.xaxis.set_major_locator(MultipleLocator(5))
axg_bot.xaxis.set_minor_locator(MultipleLocator(2.5))
axg_bot.set_xlabel('Cycle Number')
axg_bot.xaxis.set_label_coords(0.5, -0.415)
fig.text(16 / W, 1 - 1154 / H, 'Normalized Capacity(%)', rotation=90, ha='center', va='center', fontsize=18)
# break marks
dk = dict(color='#333333', lw=1.1, clip_on=False)
for xs in (0, 1):
    axg_top.plot([xs - 0.015, xs + 0.015], [-0.045, 0.0], transform=axg_top.transAxes, **dk)
    axg_bot.plot([xs - 0.015, xs + 0.015], [1.0, 1.07], transform=axg_bot.transAxes, **dk)
axg_bot.legend(handles=axg_bot.lines[:9], ncol=3, loc='upper left', bbox_to_anchor=(0.175, 0.76),
               frameon=False, fontsize=18, handlelength=1.5, handletextpad=0.45, columnspacing=0.35,
               labelspacing=0.12, borderpad=0, borderaxespad=0, markerscale=1.3)
letter(4, 968, 'g')

# ---- h ----
axh = fig.add_axes(rect(645.7, 983.3, 1070.7, 1325))
style(axh)
plot_cycles(axh, h_series, '-')
axh.set_xlim(0, 32.5)
axh.set_ylim(0, 100)
axh.xaxis.set_major_locator(MultipleLocator(5))
axh.xaxis.set_minor_locator(MultipleLocator(2.5))
axh.yaxis.set_major_locator(MultipleLocator(10))
axh.yaxis.set_minor_locator(MultipleLocator(5))
axh.set_xlabel('Cycle Number')
axh.set_ylabel('Normalized Capacity(%)')
axh.xaxis.set_label_coords(0.5, -0.16)
axh.yaxis.set_label_coords(-0.131, 0.5)
axh.legend(ncol=3, loc='upper left', bbox_to_anchor=(0.008, 0.275), frameon=False, fontsize=18,
           handlelength=1.35, handletextpad=0.28, columnspacing=0.25, labelspacing=0.12,
           borderpad=0, borderaxespad=0, markerscale=1.3)
letter(574, 970, 'h')

# ---- i ----
axi = fig.add_axes(rect(1271.3, 983.3, 1697, 1325))
style(axi)
for name, v, j, col in [('DEE', i_dee_v, i_dee_j, C_DEE), ('DPE', i_dpe_v, i_dpe_j, C_DPE),
                        ('DBE', i_dbe_v, i_dbe_j, C_DBE), ('MBE', i_mbe_v, i_mbe_j, C_MBE),
                        ('EPE', i_epe_v, i_epe_j, C_EPE), ('EBE', i_ebe_v, i_ebe_j, C_EBE),
                        ('TBME', i_tbme_v, i_tbme_j, C_TBME)]:
    axi.plot(v, j, color=col, lw=LW, label=name)
axi.set_xlim(2.5, 5.5)
axi.set_ylim(-0.05, 0.20)
axi.xaxis.set_major_locator(MultipleLocator(0.5))
axi.xaxis.set_minor_locator(MultipleLocator(0.25))
axi.yaxis.set_major_locator(MultipleLocator(0.05))
axi.yaxis.set_minor_locator(MultipleLocator(0.025))
axi.yaxis.set_major_formatter(plt.FuncFormatter(lambda y, p: '%.2f' % y))
axi.set_xlabel('Voltage vs.Li$^{+}$/Li (V)')
axi.set_ylabel('Current density (mA/cm$^2$)')
axi.xaxis.set_label_coords(0.5, -0.16)
axi.yaxis.set_label_coords(-0.163, 0.5)
axi.legend(loc='upper left', bbox_to_anchor=(0.013, 0.985), frameon=False, fontsize=18,
           handlelength=2.3, handletextpad=0.28, labelspacing=0.12, borderpad=0, borderaxespad=0)
letter(1148, 960, 'i')

fig.savefig('out.png', dpi=100)
